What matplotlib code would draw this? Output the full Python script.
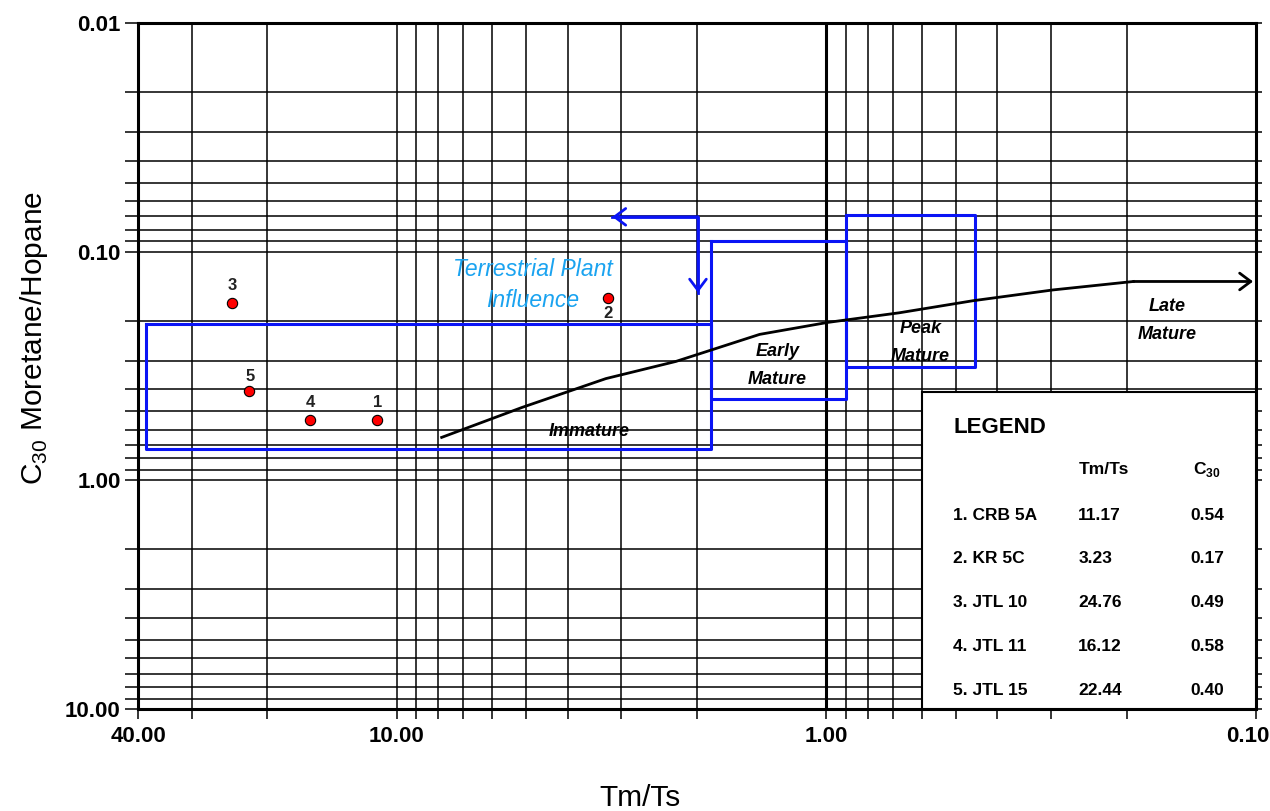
import matplotlib
matplotlib.use("Agg")
import matplotlib.pyplot as plt
from matplotlib.patches import Rectangle
from matplotlib.transforms import ScaledTranslation
from matplotlib.ticker import FixedLocator, FixedFormatter, NullFormatter

# legend table (values as listed)
sample_ids = ["1", "2", "3", "4", "5"]
sample_names = ["CRB 5A", "KR 5C", "JTL 10", "JTL 11", "JTL 15"]
tmts_listed = ["11.17", "3.23", "24.76", "16.12", "22.44"]
c30_listed = ["0.54", "0.17", "0.49", "0.58", "0.40"]

# point positions
tmts_plot = [11.1, 3.22, 24.2, 15.9, 22.1]
c30_plot = [0.545, 0.16, 0.167, 0.545, 0.405]
label_offsets = [(0, 13), (0, -11), (0, 12), (0, 13), (1, 10)]

# maturity trend
trend_x = [7.86, 5.11, 3.26, 2.24, 1.43, 0.995, 0.676, 0.457, 0.297, 0.193]
trend_y = [0.649, 0.480, 0.359, 0.302, 0.230, 0.204, 0.185, 0.164, 0.147, 0.135]
trend_end = (0.1016, 0.135)

# zone boxes: (x_left, x_right, y_top, y_bottom)
terr_box = (38.3, 1.86, 0.208, 0.732)
early_box = (1.86, 0.898, 0.0895, 0.443)
peak_box = (0.898, 0.452, 0.069, 0.318)
arrow_x = [3.15, 1.99, 1.99]
arrow_y = [0.0704, 0.0704, 0.151]

x_major = [40, 10, 1, 0.1]
x_major_labels = ["40.00", "10.00", "1.00", "0.10"]
x_minor = [30, 20] + [k for k in range(9, 1, -1)] + [k / 10 for k in range(9, 1, -1)]
y_major = [0.01, 0.1, 1, 10]
y_major_labels = ["0.01", "0.10", "1.00", "10.00"]
y_minor = [k * 10.0 ** d for d in (-2, -1, 0) for k in range(2, 10)]

plt.rcParams["font.family"] = ["Liberation Sans", "DejaVu Sans"]

blue = "#0a14f5"
fig = plt.figure(figsize=(12.7, 8.11), dpi=100)
ax = fig.add_axes([0.1087, 0.1258, 0.8803, 0.8458])
ax.set_xscale("log")
ax.set_yscale("log")
ax.set_xlim(40, 0.1)
ax.set_ylim(10, 0.01)

ax.xaxis.set_major_locator(FixedLocator(x_major))
ax.xaxis.set_major_formatter(FixedFormatter(x_major_labels))
ax.xaxis.set_minor_locator(FixedLocator(x_minor))
ax.xaxis.set_minor_formatter(NullFormatter())
ax.yaxis.set_major_locator(FixedLocator(y_major))
ax.yaxis.set_major_formatter(FixedFormatter(y_major_labels))
ax.yaxis.set_minor_locator(FixedLocator(y_minor))
ax.yaxis.set_minor_formatter(NullFormatter())

ax.set_axisbelow(True)
ax.grid(which="both", color="black", lw=1.1)
ax.axvline(1, color="black", lw=2.2, zorder=1)
ax.tick_params(which="both", direction="out", width=1.1, colors="black")
ax.tick_params(axis="x", which="both", length=7.5, pad=5, top=False)
ax.tick_params(axis="y", which="both", length=9.5, pad=3, right=True)
for lab in ax.get_xticklabels() + ax.get_yticklabels():
    lab.set_fontweight("bold")
    lab.set_fontsize(16)
for s in ax.spines.values():
    s.set_linewidth(2.2)

# zone boxes
for x0, x1, y0, y1 in (terr_box, early_box, peak_box):
    ax.plot([x0, x1, x1, x0, x0], [y0, y0, y1, y1, y0], color=blue, lw=2.2, zorder=3)

# terrestrial influence arrow
ax.plot(arrow_x, arrow_y, color=blue, lw=2, zorder=3)
head = dict(arrowstyle="->,head_length=0.4,head_width=0.3", color=blue, lw=2,
            mutation_scale=20, shrinkA=0, shrinkB=0)
ax.annotate("", xy=(arrow_x[0], arrow_y[0]), xytext=(arrow_x[1], arrow_y[0]), arrowprops=head, zorder=3)
ax.annotate("", xy=(arrow_x[2], arrow_y[2]), xytext=(arrow_x[2], arrow_y[1]), arrowprops=head, zorder=3)

# maturity trend
ax.plot(trend_x, trend_y, color="black", lw=2, zorder=3)
ax.annotate("", xy=trend_end, xytext=(trend_x[-1], trend_y[-1]),
            arrowprops=dict(arrowstyle="->,head_length=0.4,head_width=0.3", color="black", lw=2,
                            mutation_scale=20, shrinkA=0, shrinkB=0), zorder=3)

# samples
ax.scatter(tmts_plot, c30_plot, s=55, color="red", edgecolor="black", lw=0.8, zorder=5)
for sid, x, y, off in zip(sample_ids, tmts_plot, c30_plot, label_offsets):
    ax.annotate(sid, (x, y), xytext=off, textcoords="offset points", ha="center", va="center",
                fontsize=12, fontweight="bold", color="#222222")

# zone labels
ax.text(4.82, 0.14, "Terrestrial Plant\nInfluence", color="#1aa3f0", fontsize=16.5,
        style="italic", ha="center", va="center", linespacing=1.45)
zone_kw = dict(fontsize=13, fontweight="bold", style="italic", ha="center", va="center", linespacing=1.85)
ax.text(3.57, 0.611, "Immature", **zone_kw)
ax.text(1.3, 0.315, "Early\nMature", **zone_kw)
ax.text(0.604, 0.25, "Peak\nMature", **zone_kw)
ax.text(0.161, 0.20, "Late\nMature", **zone_kw)

# legend box
tr = ax.transAxes
ax.add_patch(Rectangle((0.701, 0), 0.299, 0.462, transform=tr, facecolor="white",
                       edgecolor="black", lw=1.5, zorder=6))
ax.text(0.729, 0.410, "LEGEND", transform=tr, fontsize=16, fontweight="bold", va="center", zorder=7)
ax.text(0.841, 0.349, "Tm/Ts", transform=tr, fontsize=12.5, fontweight="bold", va="center", zorder=7)
ax.text(0.956, 0.349, r"C$_{\mathregular{30}}$", transform=tr, fontsize=12.5, fontweight="bold",
        va="center", ha="center", zorder=7)
row_y = [0.282, 0.219, 0.155, 0.091, 0.027]
for sid, nm, tv, cv, ry in zip(sample_ids, sample_names, tmts_listed, c30_listed, row_y):
    ax.text(0.729, ry, f"{sid}. {nm}", transform=tr, fontsize=12.5, fontweight="bold", va="center", zorder=7)
    ax.text(0.841, ry, tv, transform=tr, fontsize=12.5, fontweight="bold", va="center", zorder=7)
    ax.text(0.956, ry, cv, transform=tr, fontsize=12.5, fontweight="bold", va="center", ha="center", zorder=7)

ax.set_xlabel("Tm/Ts", fontsize=21.5)
ax.xaxis.set_label_coords(0.449, -0.109)
ax.xaxis.label.set_va("top")
ax.set_ylabel(r"C$_{\mathregular{30}}$ Moretane/Hopane", fontsize=21.5)
ax.yaxis.set_label_coords(-0.079, 0.541)

fig.canvas.draw()
for t in ax.yaxis.get_major_ticks() + ax.yaxis.get_minor_ticks():
    t.tick2line.set_markersize(4)
last = ax.xaxis.get_major_ticks()[-1].label1
last.set_transform(last.get_transform() + ScaledTranslation(-0.08, 0, fig.dpi_scale_trans))

fig.savefig("out.png", dpi=100)
